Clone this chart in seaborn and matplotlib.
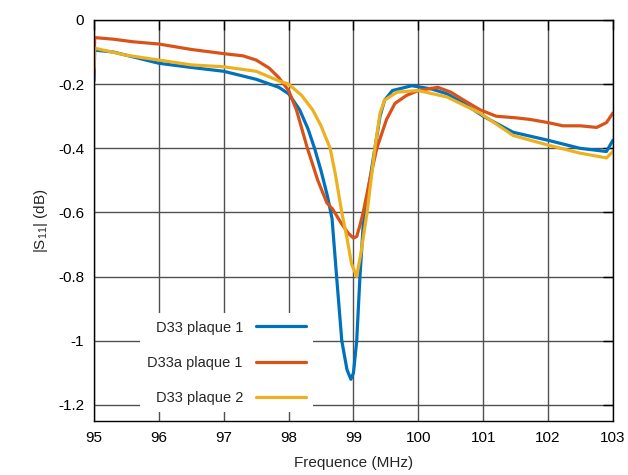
import matplotlib
matplotlib.use("Agg")
import matplotlib.pyplot as plt
import seaborn as sns
import pandas as pd

# D33 plaque 1
f_p1 = [95.0, 95.01, 95.3, 95.5, 96.0, 96.5, 97.0, 97.5, 97.85, 98.0, 98.17, 98.3, 98.4, 98.5,
        98.6, 98.67, 98.74, 98.82, 98.9, 98.96, 99.0, 99.05, 99.1, 99.15, 99.22, 99.33, 99.41,
        99.48, 99.6, 99.9, 100.2, 100.44, 100.7, 101.0, 101.46, 102.0, 102.49, 102.9, 103.0]
s_p1 = [-0.19, -0.094, -0.10, -0.11, -0.135, -0.148, -0.16, -0.185, -0.21, -0.23, -0.28, -0.34,
        -0.40, -0.47, -0.55, -0.62, -0.80, -1.0, -1.09, -1.12, -1.10, -1.0, -0.80, -0.64, -0.54,
        -0.40, -0.30, -0.25, -0.22, -0.205, -0.215, -0.23, -0.26, -0.30, -0.35, -0.375, -0.40,
        -0.41, -0.375]

# D33a plaque 1
f_a1 = [95.0, 95.01, 95.3, 95.6, 96.0, 96.5, 97.0, 97.3, 97.5, 97.7, 97.85, 98.0, 98.12, 98.29,
        98.45, 98.59, 98.68, 98.8, 98.92, 99.0, 99.05, 99.1, 99.15, 99.25, 99.36, 99.51, 99.64,
        99.82, 100.0, 100.3, 100.5, 100.7, 100.95, 101.2, 101.5, 101.72, 102.0, 102.23, 102.5,
        102.75, 102.9, 103.0]
s_a1 = [-0.17, -0.055, -0.06, -0.068, -0.075, -0.092, -0.105, -0.112, -0.125, -0.15, -0.18, -0.22,
        -0.28, -0.40, -0.50, -0.57, -0.59, -0.63, -0.665, -0.68, -0.675, -0.64, -0.60, -0.50,
        -0.40, -0.31, -0.26, -0.235, -0.22, -0.21, -0.225, -0.25, -0.28, -0.30, -0.305, -0.31,
        -0.32, -0.33, -0.33, -0.335, -0.32, -0.29]

# D33 plaque 2
f_p2 = [95.0, 95.01, 95.5, 96.0, 96.5, 97.0, 97.5, 97.85, 98.0, 98.2, 98.37, 98.5, 98.64, 98.72,
        98.82, 98.9, 98.97, 99.05, 99.12, 99.21, 99.33, 99.41, 99.48, 99.67, 100.0, 100.44,
        100.95, 101.46, 102.0, 102.49, 102.9, 103.0]
s_p2 = [-0.15, -0.088, -0.11, -0.125, -0.14, -0.146, -0.16, -0.19, -0.20, -0.235, -0.28, -0.33,
        -0.40, -0.48, -0.60, -0.68, -0.76, -0.80, -0.72, -0.60, -0.40, -0.29, -0.25, -0.225,
        -0.22, -0.24, -0.29, -0.36, -0.39, -0.415, -0.43, -0.41]

labels = ["D33 plaque 1", "D33a plaque 1", "D33 plaque 2"]
colors = ["#0072BD", "#D95319", "#EDB120"]

df = pd.concat([
    pd.DataFrame({"f": f_p1, "s": s_p1, "serie": labels[0]}),
    pd.DataFrame({"f": f_a1, "s": s_a1, "serie": labels[1]}),
    pd.DataFrame({"f": f_p2, "s": s_p2, "serie": labels[2]}),
], ignore_index=True)

sns.set_style("white")
plt.rcParams['font.family'] = ['Liberation Sans', 'DejaVu Sans']

fig = plt.figure(figsize=(6.28, 4.75), dpi=100)
ax = fig.add_axes([0.1497, 0.1137, 0.8263, 0.8443])

sns.lineplot(data=df, x="f", y="s", hue="serie", palette=dict(zip(labels, colors)),
             sort=False, estimator=None, linewidth=2.3, ax=ax, legend=False)

ax.set_xlim(95, 103)
ax.set_ylim(-1.25, 0)
ax.set_xticks(range(95, 104))
ax.set_yticks([0, -0.2, -0.4, -0.6, -0.8, -1.0, -1.2])
ax.set_yticklabels(["0", "-0.2", "-0.4", "-0.6", "-0.8", "-1", "-1.2"])
ax.grid(True, color="#505050", linewidth=1.0)
ax.set_axisbelow(True)
for sp in ax.spines.values():
    sp.set_color("black")
    sp.set_linewidth(1.0)
ax.tick_params(direction="in", length=7, width=1, labelsize=11, top=True, right=True,
               pad=7, colors="black")
ax.set_xlabel("Frequence (MHz)", fontsize=11, labelpad=8)
ax.set_ylabel(r"|S$_{\mathregular{11}}$| (dB)", fontsize=11, labelpad=6)

handles = [plt.Line2D([], [], color=c, linewidth=2.3) for c in colors]
leg = ax.legend(handles, labels, loc="lower right", bbox_to_anchor=(0.422, 0.022),
                markerfirst=False, frameon=True, fancybox=False, framealpha=1,
                facecolor="white", edgecolor="none", fontsize=10.5, handlelength=3.4,
                handletextpad=0.9, labelspacing=1.45, borderpad=0.5, borderaxespad=0)
leg.set_zorder(5)

fig.savefig("out.png", dpi=100)
